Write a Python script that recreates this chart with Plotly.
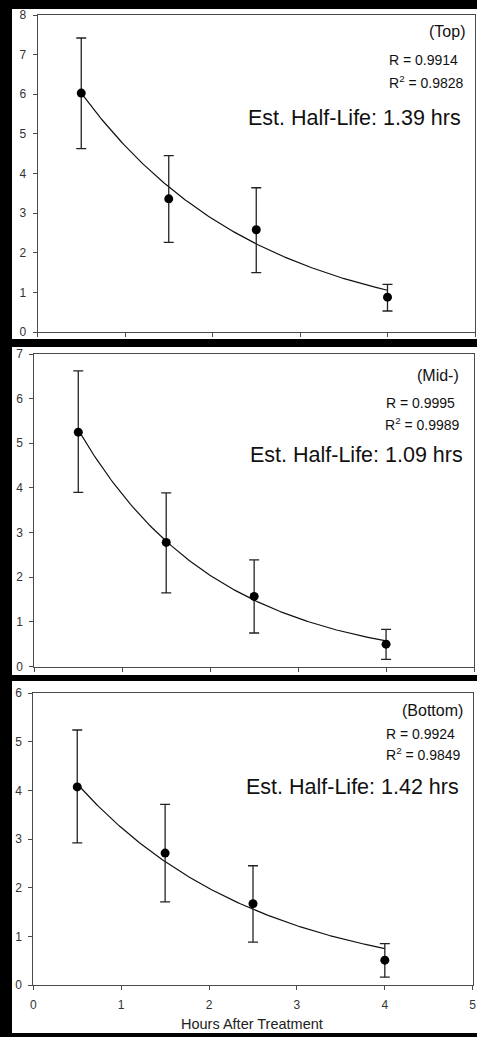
import numpy as np
import plotly.graph_objects as go

W, H = 477, 1037

# ---- data ----
hours = [0.5, 1.5, 2.5, 4.0]

top_mean = [6.03, 3.36, 2.58, 0.88]
top_upper = [7.42, 4.45, 3.64, 1.20]
top_lower = [4.63, 2.26, 1.50, 0.53]

mid_mean = [5.25, 2.78, 1.57, 0.50]
mid_upper = [6.62, 3.89, 2.39, 0.83]
mid_lower = [3.90, 1.65, 0.75, 0.16]

bot_mean = [4.07, 2.71, 1.67, 0.51]
bot_upper = [5.24, 3.71, 2.45, 0.85]
bot_lower = [2.92, 1.71, 0.88, 0.16]

panel_names = ["(Top)", "(Mid-)", "(Bottom)"]
r_values = ["0.9914", "0.9995", "0.9924"]
r2_values = ["0.9828", "0.9989", "0.9849"]
half_lives = [1.39, 1.09, 1.42]          # hrs (from the chart text)
fit_start = [6.03, 5.30, 4.13]           # fitted value at t = 0.5 h
y_max = [8, 7, 6]

x_ticks = [0, 1, 2, 3, 4, 5]
x_title = "Hours After Treatment"

# ---- layout geometry (pixels) ----
def px(x):
    return x / W

def py(y):
    return 1 - y / H

panels = [
    dict(x0=37.5, x1=475, y0=15, y1=332, white=(9, 339),
         name_xy=(467, 32), r_xy=(387, 60), r2_xy=(387, 82), hl_xy=(463, 118)),
    dict(x0=34.3, x1=474, y0=354, y1=666.5, white=(347, 675),
         name_xy=(461, 375), r_xy=(384, 403), r2_xy=(383, 424), hl_xy=(465, 455)),
    dict(x0=33.3, x1=472.7, y0=693, y1=985, white=(681, 1033),
         name_xy=(465, 710), r_xy=(384, 734), r2_xy=(384, 754), hl_xy=(461, 787)),
]

means = [top_mean, mid_mean, bot_mean]
uppers = [top_upper, mid_upper, bot_upper]
lowers = [top_lower, mid_lower, bot_lower]

fig = go.Figure()
FONT = "Liberation Sans, Arial, sans-serif"
AXC = "#4a4a4a"

shapes = []
annotations = []
layout_axes = {}


def ann(text, xy, size, anchor, color="#111111"):
    annotations.append(dict(text=text, xref="paper", yref="paper",
                            x=px(xy[0]), y=py(xy[1]), xanchor=anchor, yanchor="middle",
                            showarrow=False,
                            font=dict(family=FONT, size=size, color=color)))


for i in range(3):
    n = "" if i == 0 else str(i + 1)
    xa, ya = "x" + n, "y" + n
    m, u, lo = means[i], uppers[i], lowers[i]
    err_plus = [uu - mm for uu, mm in zip(u, m)]
    err_minus = [mm - ll for mm, ll in zip(m, lo)]

    # fitted exponential decay curve
    t = np.linspace(hours[0], hours[-1], 160)
    yfit = fit_start[i] * 0.5 ** ((t - hours[0]) / half_lives[i])
    fig.add_trace(go.Scatter(x=t, y=yfit, mode="lines",
                             line=dict(color="#111111", width=1.2),
                             xaxis=xa, yaxis=ya, showlegend=False, hoverinfo="skip"))
    fig.add_trace(go.Scatter(
        x=hours, y=m, mode="markers",
        marker=dict(color="#000000", size=9),
        error_y=dict(type="data", symmetric=False, array=err_plus, arrayminus=err_minus,
                     color="#222222", thickness=1.3, width=5),
        xaxis=xa, yaxis=ya, showlegend=False))

    p = panels[i]
    layout_axes["xaxis" + n] = dict(
        domain=[px(p["x0"]), px(p["x1"])], range=[0, 5], anchor=ya,
        tickvals=x_ticks, showticklabels=(i == 2),
        ticks="outside", ticklen=4, tickcolor=AXC, tickwidth=1,
        showline=True, linecolor=AXC, linewidth=1, mirror=True,
        showgrid=False, zeroline=False, ticklabelstandoff=5, automargin=False,
        tickfont=dict(family=FONT, size=12, color="#333333"),
    )
    layout_axes["yaxis" + n] = dict(
        domain=[py(p["y1"]), py(p["y0"])], range=[0, y_max[i]], anchor=xa,
        dtick=1, tick0=0, ticks="outside", ticklen=4, tickcolor=AXC, tickwidth=1,
        showline=True, linecolor=AXC, linewidth=1, mirror=True,
        showgrid=False, zeroline=False, ticklabelstandoff=4, automargin=False,
        tickfont=dict(family=FONT, size=12, color="#333333"),
    )

    # white panel background
    shapes.append(dict(type="rect", xref="paper", yref="paper",
                       x0=px(12), x1=1.0, y0=py(p["white"][1]), y1=py(p["white"][0]),
                       fillcolor="white", line=dict(width=0), layer="below"))

    ann(panel_names[i], p["name_xy"], 16, "right")
    ann("R = " + r_values[i], p["r_xy"], 14, "left")
    ann("R<sup>2</sup> = " + r2_values[i], p["r2_xy"], 14, "left")
    ann("Est. Half-Life: %.2f hrs" % half_lives[i], p["hl_xy"], 21.5, "right")

# x-axis title of the bottom panel
ann(x_title, (252, 1024), 14.5, "center", color="#222222")

fig.update_layout(
    width=W, height=H, autosize=False,
    margin=dict(l=0, r=0, t=0, b=0, autoexpand=False),
    paper_bgcolor="#000000", plot_bgcolor="white",
    shapes=shapes, annotations=annotations,
    showlegend=False,
    **layout_axes,
)

fig.write_html("out.html")
